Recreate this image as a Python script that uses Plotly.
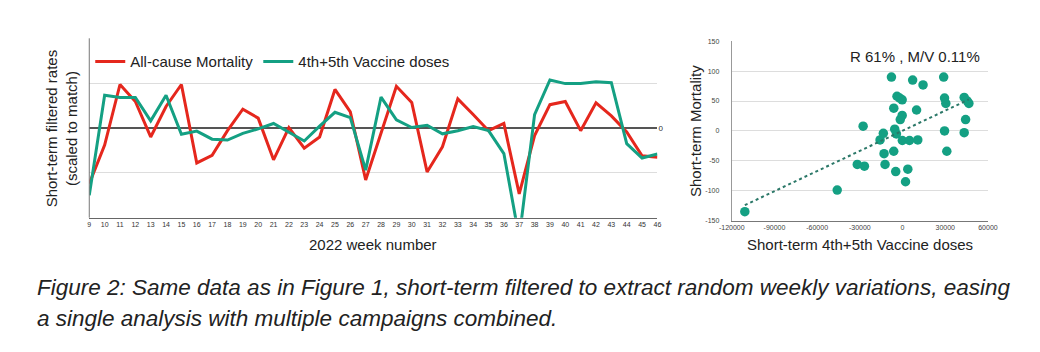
import numpy as np
import plotly.graph_objects as go

# ---- Data ----
weeks = list(range(9, 47))
mortality = [-1.24, -0.38, 0.97, 0.59, -0.20, 0.48, 0.97, -0.78, -0.61, -0.06,
             0.42, 0.22, -0.71, 0.01, -0.45, -0.20, 0.86, 0.36, -1.16, -0.14,
             0.93, 0.57, -0.98, -0.42, 0.65, 0.30, -0.06, 0.10, -1.47, -0.17,
             0.52, 0.59, -0.06, 0.56, 0.27, -0.09, -0.62, -0.65]
vaccine = [-1.50, 0.73, 0.68, 0.68, 0.16, 0.73, -0.14, -0.07, -0.25, -0.27,
           -0.12, -0.02, 0.10, -0.09, -0.29, 0.04, 0.35, 0.23, -0.94, 0.69,
           0.18, 0.01, 0.06, -0.13, -0.06, 0.03, -0.06, -0.57, -2.45, 0.30,
           1.07, 0.99, 0.99, 1.03, 1.01, -0.35, -0.67, -0.58]

sc_doses = [-110800, -45900, -31800, -26800, -27700, -15800, -13500, -13000, -12300,
            -7800, -6160, -6200, -5500, -4300, -4800, -3900, -260, -260, -1600,
            -160, 2100, 3700, 4900, 7100, 9840, 10700, 14400, 28900, 29500,
            30400, 29500, 31100, 43300, 46600, 44300, 43300, 45500, -2000]
sc_mort = [-135, -99, -56, -59, 8, -15, -4, -38, -56,
           90, 38, -34, 3, -5, -68, 58, 52, 26, 19,
           -16, -85, -64, -16, 85, 35, -15, 77, 90, 55,
           46, 0, -34, 56, 46, 19, -3, 50, 55]

sc_xticks = [-120000, -90000, -60000, -30000, 0, 30000, 60000]
sc_yticks = [-150, -100, -50, 0, 50, 100, 150]

stats_label = "R 61% , M/V 0.11%"
left_x_title = "2022 week number"
left_y_title = "Short-term filtered rates<br>(scaled to match)"
right_x_title = "Short-term 4th+5th Vaccine doses"
right_y_title = "Short-term Mortality"
caption_1 = "Figure 2: Same data as in Figure 1, short-term filtered to extract random weekly variations, easing"
caption_2 = "a single analysis with multiple campaigns combined."

RED = "#e5271d"
TEAL = "#14a083"
FONT = "Liberation Sans, Arial, Helvetica, sans-serif"

W, H = 1040, 352
def px(x):
    return x / W
def py(y):
    return 1 - y / H

# trend line fitted to scatter data
slope, intercept = np.polyfit(sc_doses, sc_mort, 1)
tx = np.array([min(sc_doses), max(sc_doses)])
ty = slope * tx + intercept

fig = go.Figure()
fig.add_trace(go.Scatter(x=weeks, y=mortality, mode="lines", name="All-cause Mortality",
                         line=dict(color=RED, width=3), xaxis="x", yaxis="y"))
fig.add_trace(go.Scatter(x=weeks, y=vaccine, mode="lines", name="4th+5th Vaccine doses",
                         line=dict(color=TEAL, width=3), xaxis="x", yaxis="y"))
fig.add_trace(go.Scatter(x=sc_doses, y=sc_mort, mode="markers", showlegend=False,
                         marker=dict(color=TEAL, size=9.5, line=dict(width=0)),
                         xaxis="x2", yaxis="y2"))
fig.add_trace(go.Scatter(x=tx, y=ty, mode="lines", showlegend=False,
                         line=dict(color="#2b7868", width=2, dash="dot"),
                         xaxis="x2", yaxis="y2"))

fig.update_layout(
    width=W, height=H,
    margin=dict(l=0, r=0, t=0, b=0),
    paper_bgcolor="white", plot_bgcolor="white",
    font=dict(family=FONT, color="#222"),
    showlegend=True,
    legend=dict(orientation="h", x=px(79), y=py(59), xanchor="left", yanchor="middle",
                font=dict(size=15, color="#222"), bgcolor="rgba(0,0,0,0)",
                itemwidth=30),
    xaxis=dict(domain=[px(78), px(659)], range=[9, 46], tickmode="array",
               tickvals=weeks, ticktext=[str(w) for w in weeks],
               tickfont=dict(size=7, color="#333"), ticks="", showgrid=False,
               showline=True, linecolor="#666", linewidth=1, zeroline=False,
               anchor="y"),
    yaxis=dict(domain=[py(218), py(35)], range=[-2, 2], side="right",
               tickmode="array", tickvals=[-2, -1, 0, 1, 2],
               ticktext=["", "", "0", "", ""], tickfont=dict(size=8, color="#333"),
               ticks="", showgrid=True, gridcolor="#dddddd", gridwidth=1,
               zeroline=True, zerolinecolor="#555", zerolinewidth=1.5,
               showline=False, anchor="x"),
    xaxis2=dict(domain=[px(735), px(997)], range=[-120000, 60000], tickmode="array",
                tickvals=sc_xticks, ticktext=[str(v) for v in sc_xticks],
                tickfont=dict(size=7, color="#444"), ticks="", showgrid=False,
                showline=True, linecolor="#777", linewidth=1, zeroline=False,
                anchor="y2"),
    yaxis2=dict(domain=[py(221), py(38)], range=[-150, 150], tickmode="array",
                tickvals=sc_yticks, ticktext=[str(v) for v in sc_yticks],
                tickfont=dict(size=7, color="#444"), ticks="", showgrid=True,
                gridcolor="#dddddd", zeroline=False, showline=True,
                linecolor="#999", linewidth=1, ticklabelstandoff=10, anchor="x2"),
)

# left border of the left chart
fig.add_shape(type="line", xref="paper", yref="paper", x0=px(78), x1=px(78),
              y0=py(218), y1=py(35), line=dict(color="#777", width=1))

annotations = [
    dict(text=left_y_title, x=px(50), y=py(127), textangle=-90, font=dict(size=15, color="#222")),
    dict(text=left_x_title, x=px(368), y=py(245), font=dict(size=15, color="#222")),
    dict(text=right_y_title, x=px(698), y=py(130), textangle=-90, font=dict(size=15, color="#222")),
    dict(text=right_x_title, x=px(866), y=py(245), font=dict(size=15, color="#222")),
    dict(text=stats_label, x=px(922), y=py(54), font=dict(size=15, color="#222")),
    dict(text=caption_1, x=px(22), y=py(289), xanchor="left",
         font=dict(size=22.5, color="#222", style="italic")),
    dict(text=caption_2, x=px(22), y=py(321), xanchor="left",
         font=dict(size=22.5, color="#222", style="italic")),
]
for a in annotations:
    a.setdefault("xanchor", "center")
    fig.add_annotation(xref="paper", yref="paper", yanchor="middle", showarrow=False, **a)

fig.write_html("out.html")
